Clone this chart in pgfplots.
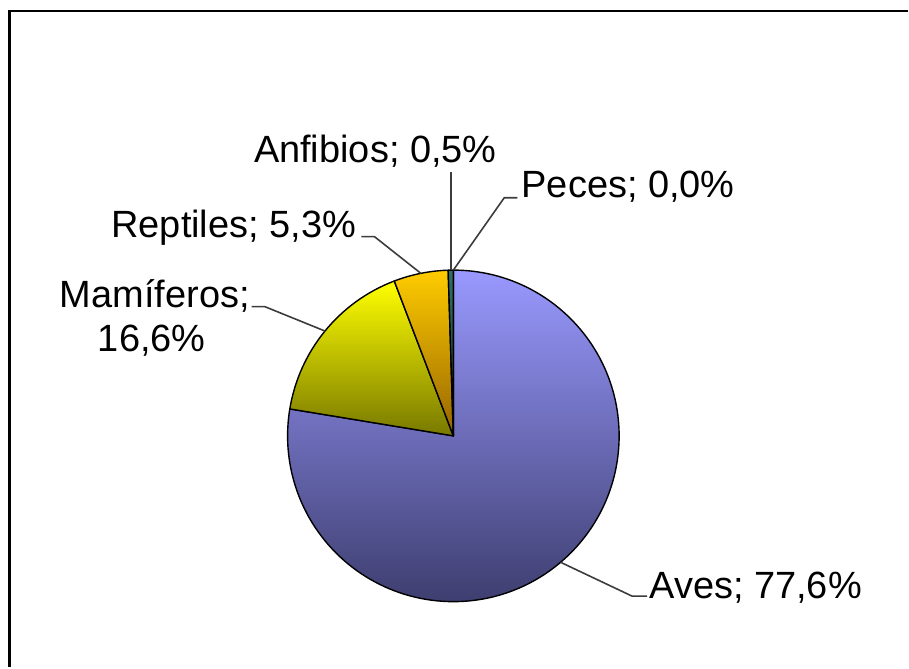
\documentclass[border=0pt]{standalone}
\usepackage{pgfplots}
\pgfplotsset{compat=1.18}
\usepackage{fontspec}
\setmainfont{Liberation Sans}

% one axis unit = one pixel of the reference = 0.5pt
\newcommand{\pxr}{83pt} % pie radius, 166 px

% \slice{start %}{share %}{top colour}{bottom colour}
% angles are expanded at once, since the axis draws its contents later
\newcommand{\slice}[4]{%
  \pgfmathsetmacro{\sa}{90-3.6*#1}%
  \pgfmathsetmacro{\ea}{90-3.6*(#1+#2)}%
  \edef\doslice{\noexpand\shade[top color=#3, bottom color=#4, draw=black,
      line width=0.7pt, line join=round]
    (axis cs:454,231.5) -- ++(\sa:\pxr) arc[start angle=\sa, end angle=\ea, radius=\pxr] -- cycle;}%
  \doslice
}

\begin{document}
\begin{tikzpicture}
\begin{axis}[
  width=454.5pt, height=334pt, scale only axis,
  xmin=0, xmax=909, ymin=0, ymax=668,
  hide axis, clip=false,
]
\path (axis cs:0,0) rectangle (axis cs:909,668);

% frame (left and top edges are visible in the crop)
\draw[black, line width=1.3pt] (axis cs:9.5,0) -- (axis cs:9.5,657) -- (axis cs:909,657);

% slices: Aves 77,6 / Mamiferos 16,6 / Reptiles 5,3 / Anfibios 0,5 / Peces 0,0
\slice{0}{77.6}{{rgb,255:red,153;green,153;blue,255}}{{rgb,255:red,62;green,62;blue,112}}
\slice{77.6}{16.6}{{rgb,255:red,255;green,255;blue,0}}{{rgb,255:red,120;green,120;blue,0}}
\slice{94.2}{5.3}{{rgb,255:red,255;green,204;blue,0}}{{rgb,255:red,150;green,100;blue,0}}
\slice{99.5}{0.5}{{rgb,255:red,51;green,110;blue,100}}{{rgb,255:red,25;green,55;blue,50}}

% leader lines
\begin{scope}[draw={rgb,255:red,60;green,60;blue,60}, line width=0.8pt]
\draw (axis cs:451.4,496) -- (axis cs:451.4,397.5);
\draw (axis cs:362,431) -- (axis cs:375,431) -- (axis cs:421.4,394.3);
\draw (axis cs:518,470) -- (axis cs:505,470) -- (axis cs:454,397.5);
\draw (axis cs:252,361) -- (axis cs:265,361) -- (axis cs:325.4,336.5);
\draw (axis cs:648,71) -- (axis cs:633,71) -- (axis cs:561.4,104.9);
\end{scope}

% labels
\begin{scope}[font=\fontsize{19}{22}\selectfont, inner sep=0pt]
\node[anchor=base west] at (axis cs:254,505) {Anfibios; 0,5\%};
\node[anchor=base east] at (axis cs:357,430) {Reptiles; 5,3\%};
\node[anchor=base west] at (axis cs:522,470) {Peces; 0,0\%};
\node[anchor=base] at (axis cs:155,360) {Mamíferos;};
\node[anchor=base] at (axis cs:152,316) {16,6\%};
\node[anchor=base west] at (axis cs:650,69) {Aves; 77,6\%};
\end{scope}
\end{axis}
\end{tikzpicture}
\end{document}
